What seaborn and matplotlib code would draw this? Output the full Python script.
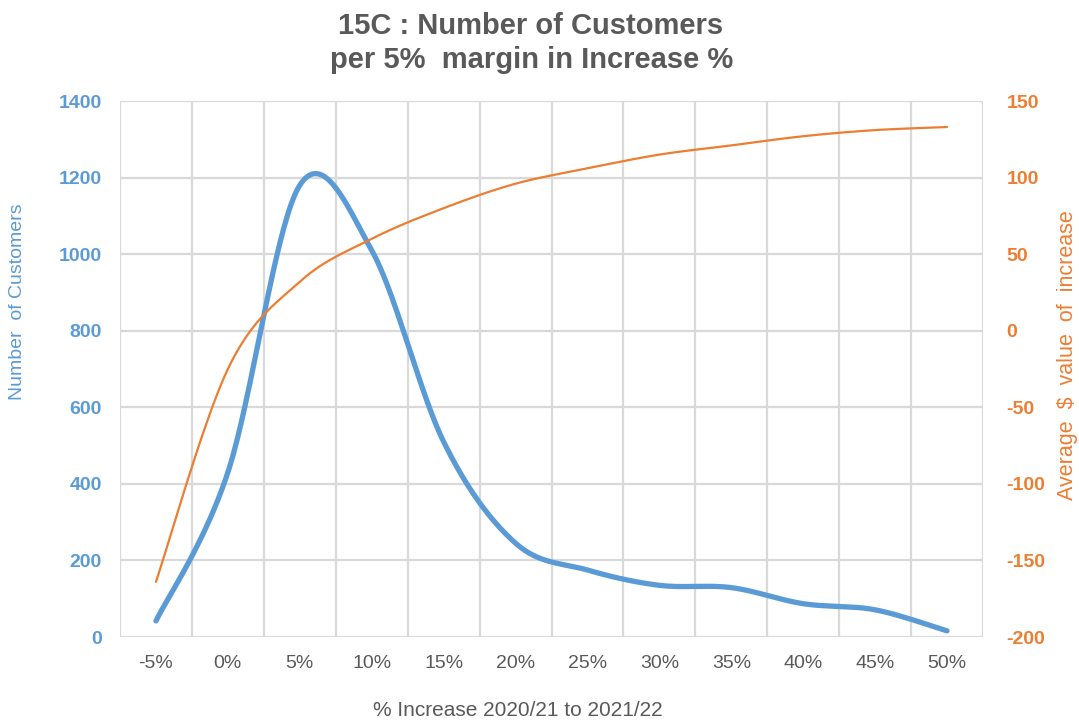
import numpy as np
import pandas as pd
import matplotlib
matplotlib.use("Agg")
import matplotlib.pyplot as plt
import seaborn as sns

# Data: customers and average $ increase per 5% band
categories = ["-5%", "0%", "5%", "10%", "15%", "20%", "25%", "30%", "35%", "40%", "45%", "50%"]
customers = [42, 430, 1180, 1010, 510, 245, 175, 135, 129, 87, 71, 16]
avg_increase = [-164, -25, 32, 60, 80, 96, 106, 115, 121, 127, 131, 133]

BLUE = "#5B9BD5"
ORANGE = "#ED7D31"
GREY = "#595959"
GRID = "#D9D9D9"
FONT = "Liberation Sans"


def smooth_curve(xs, ys, steps=40):
    """Cubic Bezier smoothing through every point (spreadsheet-style smoothed line)."""
    pts = np.column_stack([np.asarray(xs, float), np.asarray(ys, float)])
    n = len(pts)
    out = []
    t = np.linspace(0, 1, steps)[:, None]
    for i in range(n - 1):
        p0 = pts[i - 1] if i > 0 else pts[i]
        p1 = pts[i]
        p2 = pts[i + 1]
        p3 = pts[i + 2] if i + 2 < n else pts[i + 1]
        c1 = p1 + (p2 - p0) / 6.0
        c2 = p2 - (p3 - p1) / 6.0
        seg = ((1 - t) ** 3) * p1 + 3 * ((1 - t) ** 2) * t * c1 + 3 * (1 - t) * t ** 2 * c2 + t ** 3 * p2
        out.append(seg if i == 0 else seg[1:])
    arr = np.vstack(out)
    return arr[:, 0], arr[:, 1]


sns.set_theme(style="white")
plt.rcParams["font.family"] = [FONT, "DejaVu Sans"]
plt.rcParams["axes.unicode_minus"] = False

fig = plt.figure(figsize=(10.79, 7.2), dpi=100)
ax = fig.add_axes([120 / 1079, 1 - 637 / 720, (983 - 120) / 1079, (637 - 101) / 720])

pos = np.arange(len(categories))
df = pd.DataFrame({"pos": pos, "customers": customers, "avg": avg_increase})

bx, by = smooth_curve(df["pos"], df["customers"])
sns.lineplot(x=bx, y=by, ax=ax, sort=False, estimator=None, color=BLUE,
             linewidth=3.8, solid_capstyle="round")

ax.set_xlim(-0.5, len(categories) - 0.5)
ax.set_ylim(0, 1400)
ax.set_yticks(np.arange(0, 1401, 200))
ax.set_xticks(pos)
ax.set_xticklabels(categories)
ax.set_xticks(np.arange(-0.5, len(categories), 1.0), minor=True)
ax.grid(False)
ax.grid(True, which="minor", axis="x", color=GRID, linewidth=1.6)
ax.grid(True, which="major", axis="y", color=GRID, linewidth=1.6)
ax.set_axisbelow(True)
for s in ax.spines.values():
    s.set_visible(False)
ax.tick_params(axis="x", which="both", length=0, pad=13, labelsize=14, labelcolor=GREY)
ax.tick_params(axis="y", length=0, pad=13, labelsize=14, labelcolor=BLUE)
for lbl in ax.get_yticklabels():
    lbl.set_fontweight("bold")
ax.set_xlabel("")
ax.set_ylabel("")

ax2 = ax.twinx()
ox, oy = smooth_curve(df["pos"], df["avg"])
sns.lineplot(x=ox, y=oy, ax=ax2, sort=False, estimator=None, color=ORANGE, linewidth=1.6)
ax2.set_ylim(-200, 150)
ax2.set_yticks(np.arange(-200, 151, 50))
ax2.grid(False)
for s in ax2.spines.values():
    s.set_visible(False)
ax2.tick_params(axis="y", length=0, pad=17, labelsize=14, labelcolor=ORANGE)
for lbl in ax2.get_yticklabels():
    lbl.set_fontweight("bold")
ax2.set_ylabel("")

# Titles and axis captions
fig.text(531 / 1079, 1 - 34 / 720, "15C : Number of Customers", ha="center", va="baseline",
         fontsize=21, fontweight="bold", color=GREY)
fig.text(532 / 1079, 1 - 68 / 720, "per 5%  margin in Increase %", ha="center", va="baseline",
         fontsize=21, fontweight="bold", color=GREY)
fig.text(18 / 1079, 1 - 302 / 720, "Number  of Customers", rotation=90, ha="center", va="center",
         fontsize=14, color=BLUE)
fig.text(1068 / 1079, 1 - 355 / 720, "Average  $  value  of  increase", rotation=90,
         ha="center", va="center", fontsize=15.5, color=ORANGE)
fig.text(518 / 1079, 1 - 710 / 720, "% Increase 2020/21 to 2021/22", ha="center", va="center",
         fontsize=15, color=GREY)

fig.savefig("out.png", dpi=100, facecolor="white")
